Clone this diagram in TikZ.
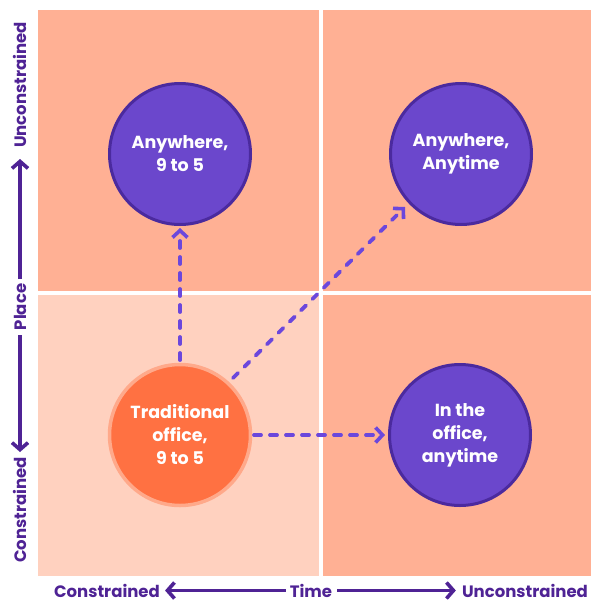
\documentclass[tikz,border=0pt]{standalone}
\usepackage{fontspec}
\setmainfont{Poppins}
\usetikzlibrary{arrows.meta}
\definecolor{quad}{HTML}{FFB094}
\definecolor{quadlight}{HTML}{FFD1BF}
\definecolor{purfill}{HTML}{6B47CC}
\definecolor{purline}{HTML}{4B2A9E}
\definecolor{orfill}{HTML}{FF7142}
\definecolor{orring}{HTML}{FFA98A}
\definecolor{axiscol}{HTML}{4F2395}
\definecolor{dashcol}{HTML}{6B47DC}
\tikzset{
  purcircle/.style={circle, fill=purfill, draw=purline, line width=3pt, minimum size=141pt, inner sep=0pt, text=white, font=\bfseries\fontsize{17.5}{23}\selectfont, align=center},
  orcircle/.style={circle, fill=orfill, draw=orring, line width=3.5pt, minimum size=141pt, inner sep=0pt, text=white, font=\bfseries\fontsize{17.5}{23}\selectfont, align=center},
  dasharrow/.style={draw=dashcol, line width=3.8pt, line cap=round, dash pattern=on 7pt off 9pt, -{Straight Barb[length=7pt,width=15pt,line width=3.6pt]}},
  axlabel/.style={text=axiscol, font=\bfseries\fontsize{16.5}{19}\selectfont, inner sep=0pt},
  axarrow/.style={draw=axiscol, line width=3.6pt, -{Straight Barb[length=7pt,width=16pt,line width=3.6pt]}},
}
\begin{document}
\begin{tikzpicture}[x=1pt,y=-1pt]
\useasboundingbox (0,0) rectangle (591,603);
\fill[white] (0,0) rectangle (591,603);
% quadrants
\fill[quad] (38,10) rectangle (319,291);
\fill[quad] (323,10) rectangle (591,291);
\fill[quadlight] (38,295) rectangle (319,576);
\fill[quad] (323,295) rectangle (591,576);
% circles
\node[purcircle] (tl) at (180,154) {Anywhere,\\9 to 5};
\node[purcircle] (tr) at (461,154) {Anywhere,\\Anytime};
\node[purcircle] (br) at (460,435) {In the\\office,\\anytime};
\node[orcircle] (bl) at (180,435) {Traditional\\office,\\9 to 5};
% dashed arrows
\coordinate (vs) at (180,360);
\coordinate (ve) at (180,228);
\coordinate (ds) at (233,378);
\coordinate (de) at (405,207);
\coordinate (hs) at (254,435);
\coordinate (he) at (385,435);
\draw[dasharrow] (vs) -- (ve);
\draw[dasharrow] (ds) -- (de);
\draw[dasharrow] (hs) -- (he);
% vertical axis
\node[axlabel, rotate=90] (yu) at (20,85) {Unconstrained};
\node[axlabel, rotate=90] (yp) at (20,307) {Place};
\node[axlabel, rotate=90] (yc) at (20,510) {Constrained};
\coordinate (pu0) at (20,279);
\coordinate (pu1) at (20,159);
\coordinate (pd0) at (20,335);
\coordinate (pd1) at (20,452);
\draw[axarrow] (pu0) -- (pu1);
\draw[axarrow] (pd0) -- (pd1);
% horizontal axis
\node[axlabel] (xc) at (107,590.5) {Constrained};
\node[axlabel] (xt) at (311,590.5) {Time};
\node[axlabel] (xu) at (525,590.5) {Unconstrained};
\draw[axarrow] ([xshift=-4pt]xt.west) -- ([xshift=5pt]xc.east);
\draw[axarrow] ([xshift=5pt]xt.east) -- ([xshift=-6pt]xu.west);
\end{tikzpicture}
\end{document}
